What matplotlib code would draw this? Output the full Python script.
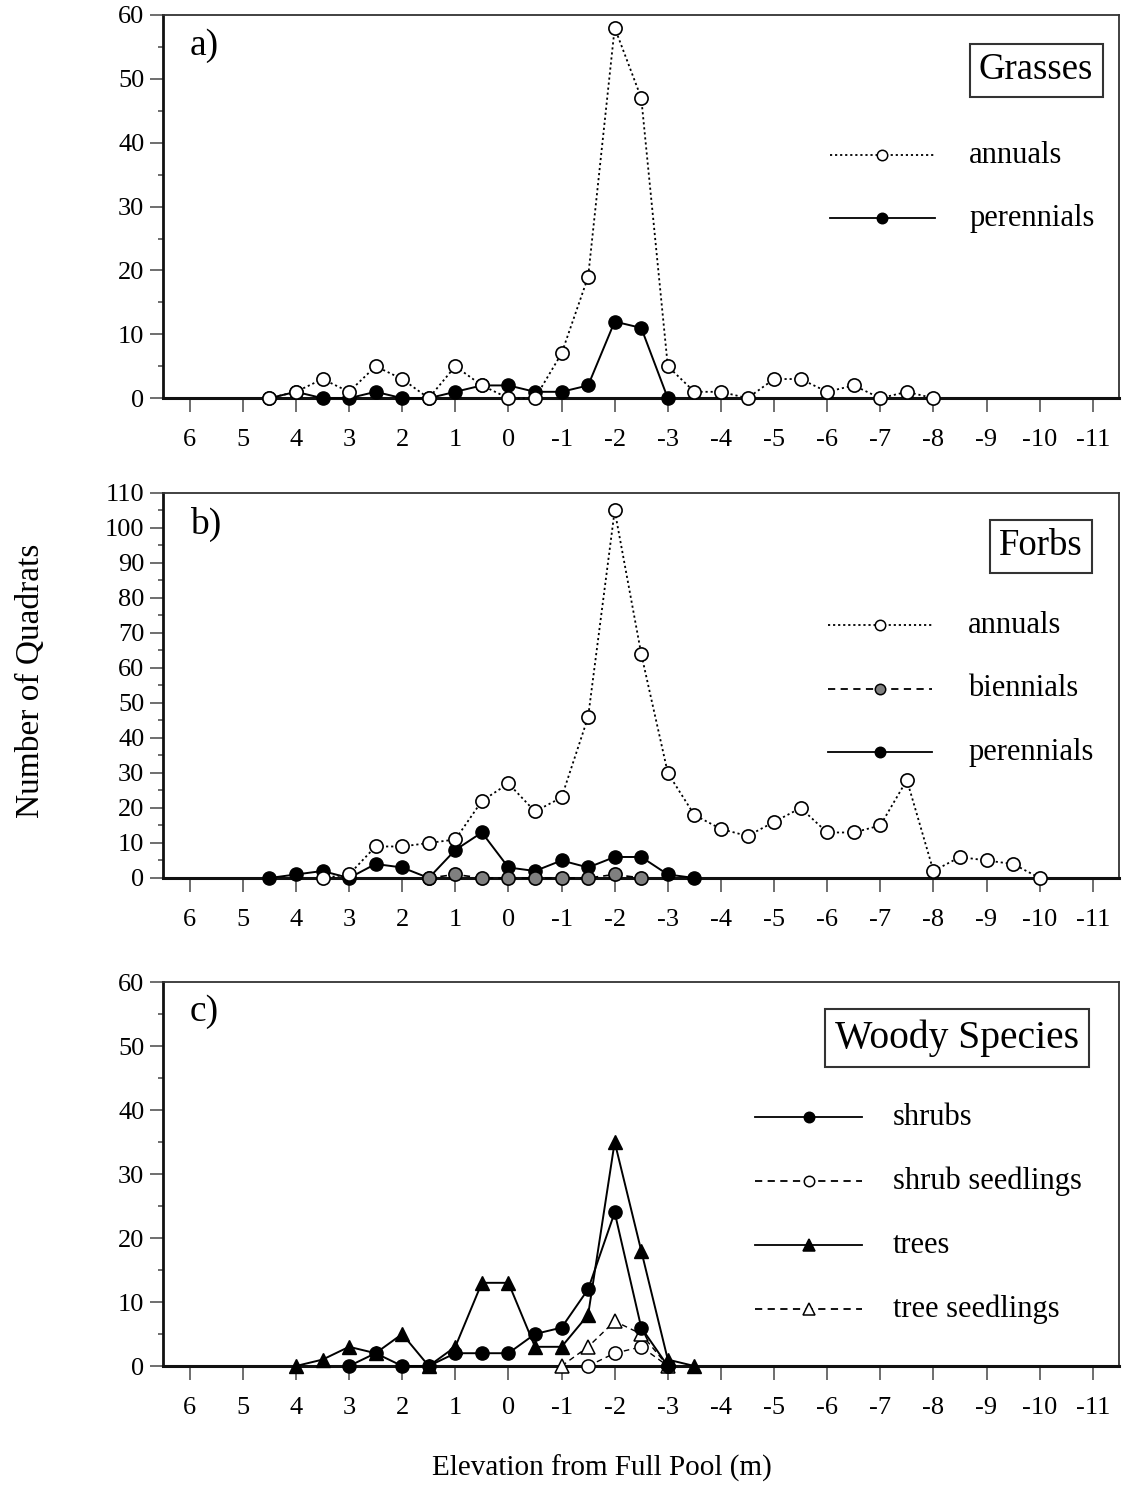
import matplotlib
matplotlib.use("Agg")
import matplotlib.pyplot as plt
from matplotlib.lines import Line2D
from matplotlib.ticker import MultipleLocator

plt.rcParams['font.family'] = ['Liberation Serif', 'DejaVu Serif']

# elevation (m from full pool) and counts of quadrats
# a) grasses
grass_ann_x = [4.5, 4, 3.5, 3, 2.5, 2, 1.5, 1, 0.5, 0, -0.5, -1, -1.5, -2, -2.5, -3,
               -3.5, -4, -4.5, -5, -5.5, -6, -6.5, -7, -7.5, -8]
grass_ann_y = [0, 1, 3, 1, 5, 3, 0, 5, 2, 0, 0, 7, 19, 58, 47, 5,
               1, 1, 0, 3, 3, 1, 2, 0, 1, 0]
grass_per_x = [4.5, 4, 3.5, 3, 2.5, 2, 1.5, 1, 0.5, 0, -0.5, -1, -1.5, -2, -2.5, -3]
grass_per_y = [0, 1, 0, 0, 1, 0, 0, 1, 2, 2, 1, 1, 2, 12, 11, 0]

# b) forbs
forb_ann_x = [3.5, 3, 2.5, 2, 1.5, 1, 0.5, 0, -0.5, -1, -1.5, -2, -2.5, -3, -3.5, -4,
              -4.5, -5, -5.5, -6, -6.5, -7, -7.5, -8, -8.5, -9, -9.5, -10]
forb_ann_y = [0, 1, 9, 9, 10, 11, 22, 27, 19, 23, 46, 105, 64, 30, 18, 14,
              12, 16, 20, 13, 13, 15, 28, 2, 6, 5, 4, 0]
forb_bien_x = [1.5, 1, 0.5, 0, -0.5, -1, -1.5, -2, -2.5]
forb_bien_y = [0, 1, 0, 0, 0, 0, 0, 1, 0]
forb_per_x = [4.5, 4, 3.5, 3, 2.5, 2, 1.5, 1, 0.5, 0, -0.5, -1, -1.5, -2, -2.5, -3, -3.5]
forb_per_y = [0, 1, 2, 0, 4, 3, 0, 8, 13, 3, 2, 5, 3, 6, 6, 1, 0]

# c) woody species
shrub_x = [3, 2.5, 2, 1.5, 1, 0.5, 0, -0.5, -1, -1.5, -2, -2.5, -3]
shrub_y = [0, 2, 0, 0, 2, 2, 2, 5, 6, 12, 24, 6, 0]
shrub_seed_x = [-1.5, -2, -2.5, -3]
shrub_seed_y = [0, 2, 3, 0]
tree_x = [4, 3.5, 3, 2.5, 2, 1.5, 1, 0.5, 0, -0.5, -1, -1.5, -2, -2.5, -3, -3.5]
tree_y = [0, 1, 3, 2, 5, 0, 3, 13, 13, 3, 3, 8, 35, 18, 1, 0]
tree_seed_x = [-1, -1.5, -2, -2.5, -3]
tree_seed_y = [0, 3, 7, 5, 0]

xticks = list(range(6, -12, -1))

DOT = (0, (1.2, 1.6))
DASH = (0, (4, 3))


def style_axis(ax, ymax):
    ax.set_xlim(6.5, -11.5)
    ax.set_ylim(0, ymax)
    ax.set_xticks(xticks)
    ax.set_xticklabels([str(t) for t in xticks])
    ax.yaxis.set_major_locator(MultipleLocator(10))
    ax.yaxis.set_minor_locator(MultipleLocator(5))
    ax.tick_params(axis='x', direction='out', length=10, width=1.2, color='#555555',
                   labelsize=19, pad=12)
    ax.tick_params(axis='y', which='major', direction='out', length=9.5, width=1.2,
                   color='#555555', labelsize=19, pad=4)
    ax.tick_params(axis='y', which='minor', direction='out', length=3.6, width=1.2,
                   color='#555555')
    for s in ['top', 'right']:
        ax.spines[s].set_linewidth(1.3)
        ax.spines[s].set_color('#333333')
    ax.spines['left'].set_linewidth(2)
    ax.spines['bottom'].set_linewidth(2.2)
    ax.spines['left'].set_color('#111111')
    ax.spines['bottom'].set_color('#111111')


def legend_rows(ax, rows, x0, x1, xt):
    # rows: (y, linestyle, marker, facecolor, label)
    for y, ls, mk, fc, lab in rows:
        ax.add_line(Line2D([x0, x1], [y, y], transform=ax.transAxes, color='black',
                           lw=1.3, ls=ls, clip_on=False))
        ax.add_line(Line2D([(x0 + x1) / 2], [y], transform=ax.transAxes, color='black',
                           marker=mk, ms=7.5 if mk == 'o' else 8, mfc=fc, mec='black',
                           mew=1.1, ls='none', clip_on=False))
        ax.text(xt, y, lab, transform=ax.transAxes, fontsize=22, va='center', ha='left')


def title_box(ax, x, y, s, size=26.5):
    ax.text(x, y, s, transform=ax.transAxes, fontsize=size, ha='center', va='center',
            bbox=dict(boxstyle='square,pad=0.25', fc='white', ec='#333333', lw=1.5))


fig = plt.figure(figsize=(11.25, 14.97), dpi=100)
L, W = 0.145, 0.850
ax_a = fig.add_axes([L, 0.734, W, 0.256])
ax_b = fig.add_axes([L, 0.4135, W, 0.2572])
ax_c = fig.add_axes([L, 0.0875, W, 0.2565])

# panel a
style_axis(ax_a, 60)
ax_a.plot(grass_per_x, grass_per_y, color='black', lw=1.4, marker='o', ms=9.5,
          mfc='black', mec='black', clip_on=False, zorder=3)
ax_a.plot(grass_ann_x, grass_ann_y, color='black', lw=1.3, ls=DOT, marker='o', ms=9.5,
          mfc='white', mec='black', mew=1.2, clip_on=False, zorder=4)
ax_a.text(0.028, 0.92, 'a)', transform=ax_a.transAxes, fontsize=27, ha='left', va='center')
title_box(ax_a, 0.913, 0.856, 'Grasses')
legend_rows(ax_a, [(0.634, DOT, 'o', 'white', 'annuals'),
                   (0.470, '-', 'o', 'black', 'perennials')], 0.697, 0.807, 0.843)

# panel b
style_axis(ax_b, 110)
ax_b.plot(forb_per_x, forb_per_y, color='black', lw=1.4, marker='o', ms=9.5,
          mfc='black', mec='black', clip_on=False, zorder=3)
ax_b.plot(forb_bien_x, forb_bien_y, color='black', lw=1.2, ls=DASH, marker='o', ms=9.5,
          mfc='#808080', mec='black', mew=1.2, clip_on=False, zorder=4)
ax_b.plot(forb_ann_x, forb_ann_y, color='black', lw=1.3, ls=DOT, marker='o', ms=9.5,
          mfc='white', mec='black', mew=1.2, clip_on=False, zorder=5)
ax_b.text(0.028, 0.917, 'b)', transform=ax_b.transAxes, fontsize=27, ha='left', va='center')
title_box(ax_b, 0.918, 0.862, 'Forbs')
legend_rows(ax_b, [(0.657, DOT, 'o', 'white', 'annuals'),
                   (0.491, DASH, 'o', '#808080', 'biennials'),
                   (0.327, '-', 'o', 'black', 'perennials')], 0.695, 0.804, 0.842)

# panel c
style_axis(ax_c, 60)
ax_c.plot(shrub_seed_x, shrub_seed_y, color='black', lw=1.0, ls=DASH, marker='o', ms=9.5,
          mfc='white', mec='black', mew=1.1, clip_on=False, zorder=3)
ax_c.plot(tree_seed_x, tree_seed_y, color='black', lw=1.0, ls=DASH, marker='^', ms=10,
          mfc='white', mec='black', mew=1.1, clip_on=False, zorder=3)
ax_c.plot(shrub_x, shrub_y, color='black', lw=1.4, marker='o', ms=9.5,
          mfc='black', mec='black', clip_on=False, zorder=4)
ax_c.plot(tree_x, tree_y, color='black', lw=1.4, marker='^', ms=10,
          mfc='black', mec='black', clip_on=False, zorder=5)
ax_c.text(0.028, 0.922, 'c)', transform=ax_c.transAxes, fontsize=27, ha='left', va='center')
title_box(ax_c, 0.83, 0.854, 'Woody Species', size=28.5)
legend_rows(ax_c, [(0.648, '-', 'o', 'black', 'shrubs'),
                   (0.482, DASH, 'o', 'white', 'shrub seedlings'),
                   (0.315, '-', '^', 'black', 'trees'),
                   (0.148, DASH, '^', 'white', 'tree seedlings')], 0.619, 0.731, 0.763)

fig.text(0.027, 0.545, 'Number of Quadrats', rotation=90, fontsize=24,
         ha='center', va='center')
fig.text(0.535, 0.019, 'Elevation from Full Pool (m)', fontsize=21,
         ha='center', va='center')

fig.savefig('out.png', dpi=100)
